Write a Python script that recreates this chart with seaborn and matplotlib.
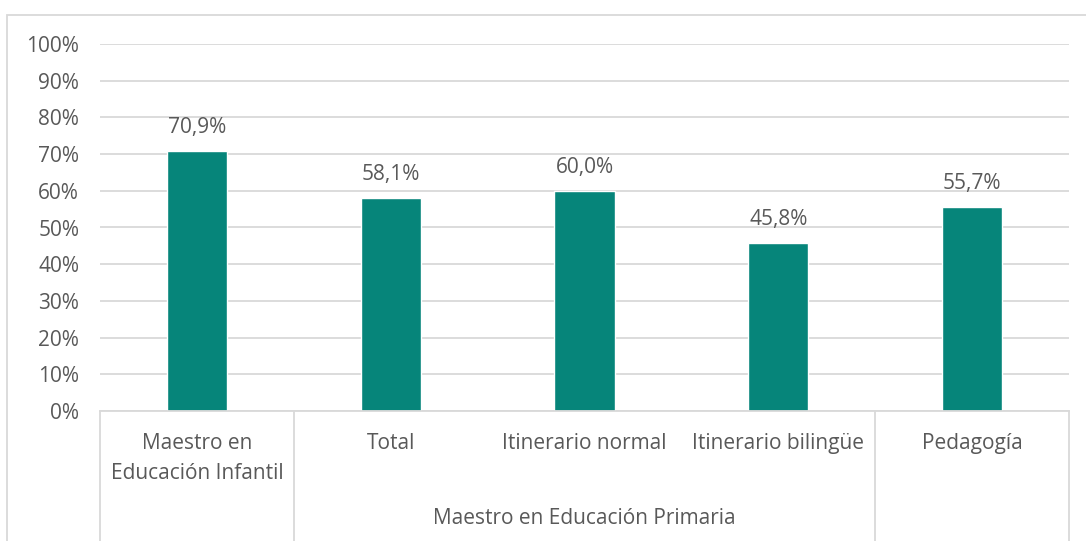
import matplotlib
matplotlib.use("Agg")
import matplotlib.pyplot as plt
import seaborn as sns
import pandas as pd
from matplotlib.lines import Line2D
from matplotlib.patches import Rectangle

categories = ["Maestro en\nEducación Infantil", "Total", "Itinerario normal",
              "Itinerario bilingüe", "Pedagogía"]
values = [0.709, 0.581, 0.600, 0.458, 0.557]
value_labels = ["70,9%", "58,1%", "60,0%", "45,8%", "55,7%"]
group_label = "Maestro en Educación Primaria"
yticks = [i / 10 for i in range(11)]
ytick_labels = [f"{i*10}%" for i in range(11)]

sns.set_theme(style="white")
plt.rcParams['font.family'] = ['Open Sans', 'DejaVu Sans']

TXT = "#595959"
GRID = "#D9D9D9"
BAR = "#06857A"
FS = 15

W, H = 1086, 541
fig = plt.figure(figsize=(W / 100, H / 100), dpi=100)
ax = fig.add_axes([100 / W, (H - 411) / H, (1069 - 100) / W, (411 - 44) / H])

df = pd.DataFrame({"cat": categories, "val": values})
sns.barplot(data=df, x="cat", y="val", color=BAR, width=0.31, ax=ax, saturation=1)

ax.set_ylim(0, 1)
ax.set_xlim(-0.5, 4.5)
ax.set_yticks(yticks)
ax.set_yticklabels(ytick_labels, color=TXT, fontsize=FS)
ax.set_xticks([])
ax.set_xlabel("")
ax.set_ylabel("")
ax.tick_params(axis="y", length=0, pad=15)
ax.yaxis.grid(True, color=GRID, linewidth=1.3)
ax.set_axisbelow(True)
for s in ["top", "right", "left"]:
    ax.spines[s].set_visible(False)
ax.spines["bottom"].set_color(GRID)
ax.spines["bottom"].set_linewidth(1.3)

for i, (v, lab) in enumerate(zip(values, value_labels)):
    ax.annotate(lab, (i, v), xytext=(0, 9), textcoords="offset points",
                ha="center", va="bottom", color=TXT, fontsize=FS)

trans = ax.get_xaxis_transform()
px = 1 / (411 - 44)  # axes fraction per pixel (vertical)
for i, c in enumerate(categories):
    ax.text(i, -22 * px, c, transform=trans, ha="center", va="top",
            color=TXT, fontsize=FS, linespacing=1.58)
ax.text(2, -(519 - 411) * px, group_label, transform=trans, ha="center", va="center",
        color=TXT, fontsize=FS)

for xb in [-0.5, 0.5, 3.5, 4.5]:
    ax.add_line(Line2D([xb, xb], [0, -(541 - 411) * px], transform=trans,
                       color=GRID, linewidth=1.3, clip_on=False))

fig.add_artist(Rectangle((7 / W, -0.1), 1.2, 1.1 - 15 / H, transform=fig.transFigure,
                         fill=False, edgecolor=GRID, linewidth=1.3))

fig.savefig("out.png", dpi=100)
